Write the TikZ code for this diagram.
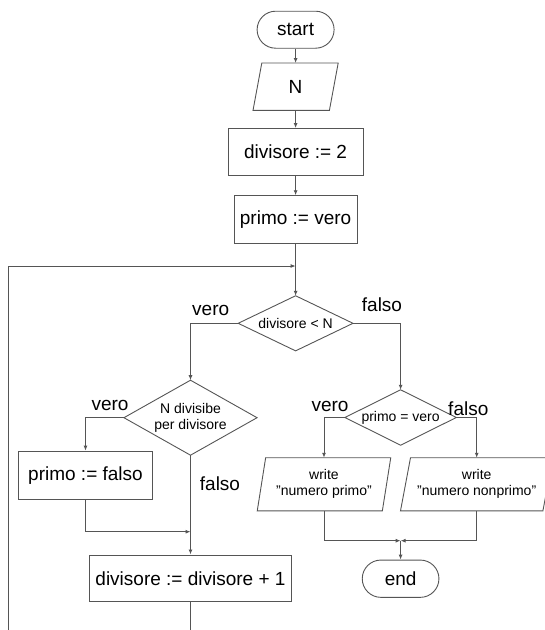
\documentclass[tikz,border=0pt]{standalone}
\usepackage{fontspec}
\setmainfont{Liberation Sans}
\usetikzlibrary{arrows.meta,shapes.misc}
\definecolor{lncol}{HTML}{555555}
\newcommand\sq{\char34 }
\begin{document}
\begin{tikzpicture}[x=1pt,y=-1pt,
  big/.style={font=\fontsize{19}{22}\selectfont},
  small/.style={font=\fontsize{14}{16}\selectfont},
  box/.style={rectangle, draw=lncol, line width=0.9pt, inner sep=0pt, big},
  term/.style={rounded rectangle, draw=lncol, line width=0.9pt, inner sep=0pt, big},
  ghost/.style={rectangle, inner sep=0pt, align=center},
  outline/.style={draw=lncol, line width=0.9pt},
  arr/.style={draw=lncol, line width=0.9pt, -{Latex[length=5pt,width=4pt]}},
  plain/.style={draw=lncol, line width=0.9pt},
  lbl/.style={big, inner sep=0pt}
]
\useasboundingbox (0,0) rectangle (545,630);

% nodes
\node[term, minimum width=77pt, minimum height=37pt] (start) at (295.6,29.7) {start};
\node[ghost, big, minimum width=76pt, minimum height=47pt] (n) at (295.6,86.7) {N};
\node[box, minimum width=135pt, minimum height=47pt] (d2) at (295.6,152) {divisore := 2};
\node[box, minimum width=122.7pt, minimum height=47.6pt] (pv) at (295.6,219.5) {primo := vero};
\node[ghost, small, minimum width=114.4pt, minimum height=54.7pt] (c1) at (295.6,323.3) {divisore < N};
\node[ghost, small, minimum width=132.7pt, minimum height=74.6pt] (c2) at (190.5,417.7) {N divisibe\\per divisore};
\node[box, minimum width=134pt, minimum height=48.3pt] (pf) at (85.5,475.2) {primo := falso};
\node[box, minimum width=202.4pt, minimum height=46.7pt] (inc) at (190.5,578.3) {divisore := divisore + 1};
\node[ghost, small, minimum width=111pt, minimum height=55pt] (c3) at (400.6,417.5) {primo = vero};
\node[ghost, small, minimum width=124.7pt, minimum height=52.7pt] (w1) at (324,484.3) {write\\\sq numero primo\sq};
\node[ghost, small, minimum width=142pt, minimum height=52.7pt] (w2) at (476.7,484.3) {write\\\sq numero nonprimo\sq};
\node[term, minimum width=76.7pt, minimum height=37.3pt] (end) at (400.6,578.7) {end};

% outlines of parallelograms and diamonds
\draw[outline] ([xshift=4.4pt]n.north west) -- ([xshift=4.4pt]n.north east) -- ([xshift=-4.4pt]n.south east) -- ([xshift=-4.4pt]n.south west) -- cycle;
\draw[outline] ([xshift=4.2pt]w1.north west) -- ([xshift=4.2pt]w1.north east) -- ([xshift=-4.2pt]w1.south east) -- ([xshift=-4.2pt]w1.south west) -- cycle;
\draw[outline] ([xshift=5pt]w2.north west) -- ([xshift=5pt]w2.north east) -- ([xshift=-5pt]w2.south east) -- ([xshift=-5pt]w2.south west) -- cycle;
\draw[outline] (c1.north) -- (c1.east) -- (c1.south) -- (c1.west) -- cycle;
\draw[outline] (c2.north) -- (c2.east) -- (c2.south) -- (c2.west) -- cycle;
\draw[outline] (c3.north) -- (c3.east) -- (c3.south) -- (c3.west) -- cycle;

% labels
\node[lbl] (v1) at (210.7,310) {vero};
\node[lbl] (f1) at (382,305) {falso};
\node[lbl] (v2) at (110,405) {vero};
\node[lbl] (f2) at (220,484) {falso};
\node[lbl] (v3) at (330,406) {vero};
\node[lbl] (f3) at (468.3,408.3) {falso};

% connectors
\coordinate (lb) at (8.3,632);
\coordinate (lj) at (295.6,266);
\coordinate (j2) at (190.5,531.7);
\coordinate (ie) at (190.5,632);
\coordinate (j3) at (400.6,540.7);

\draw[arr] (start.south) -- (n.north);
\draw[arr] (n.south) -- (d2.north);
\draw[arr] (d2.south) -- (pv.north);
\draw[arr] (pv.south) -- (c1.north);
\draw[arr] (lb) |- (lj);
\draw[arr] (c1.west) -| (c2.north);
\draw[arr] (c1.east) -| (c3.north);
\draw[arr] (c2.west) -| (pf.north);
\draw[arr] (c2.south) -- (inc.north);
\draw[arr] (pf.south) |- (j2);
\draw[plain] (inc.south) -- (ie);
\draw[arr] (c3.west) -| (w1.north);
\draw[arr] (c3.east) -| (w2.north);
\draw[arr] (w1.south) |- (j3);
\draw[arr] (w2.south) |- (j3);
\draw[arr] (j3) -- (end.north);
\end{tikzpicture}
\end{document}
